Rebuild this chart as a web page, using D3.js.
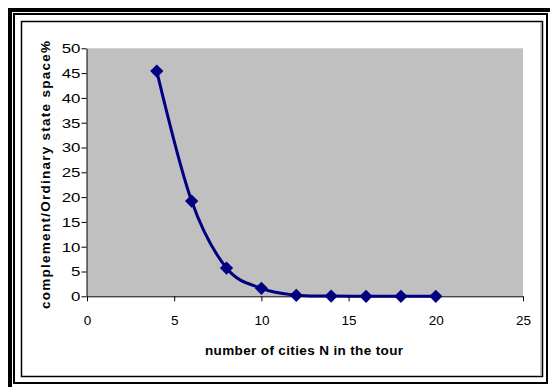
<!DOCTYPE html>
<html><head><meta charset="utf-8">
<script src="https://cdn.jsdelivr.net/npm/d3@7"></script>
<style>html,body{margin:0;padding:0;background:#fff;}svg{display:block;}</style>
</head><body>
<script>
const cities = [4, 6, 8, 10, 12, 14, 16, 18, 20];
const ratio = [45.4, 19.2, 5.7, 1.6, 0.2, 0.05, 0, 0, 0];
const xTicks = [0, 5, 10, 15, 20, 25];
const yTicks = [0, 5, 10, 15, 20, 25, 30, 35, 40, 45, 50];
const xTitle = "number of cities N in the tour";
const yTitle = "complement/Ordinary state space%";

const W = 550, H = 387;
const svg = d3.select("body").append("svg").attr("width", W).attr("height", H);
const font = "'Liberation Sans', Arial, sans-serif";

// page borders
svg.append("rect").attr("x", 8).attr("y", 8).attr("width", 4).attr("height", H - 8).attr("fill", "#000");
svg.append("rect").attr("x", 8).attr("y", 8).attr("width", W - 8).attr("height", 4).attr("fill", "#000");
svg.append("rect").attr("x", 14).attr("y", 14).attr("width", 533).attr("height", 369)
  .attr("fill", "none").attr("stroke", "#000").attr("stroke-width", 2);
// chart area border with shadow
svg.append("rect").attr("x", 21.5).attr("y", 21.5).attr("width", 521).attr("height", 355)
  .attr("fill", "none").attr("stroke", "#000").attr("stroke-width", 1.5);
svg.append("line").attr("x1", 541).attr("x2", 541).attr("y1", 23).attr("y2", 375).attr("stroke", "#888").attr("stroke-width", 1);

const L = 87, R = 523, T = 48.3, B = 296.3;
const x = d3.scaleLinear().domain([0, 25]).range([L, R]);
const y = d3.scaleLinear().domain([0, 50]).range([B, T]);

svg.append("rect").attr("x", L).attr("y", T).attr("width", R - L).attr("height", B - T).attr("fill", "#c0c0c0");

const xAxis = svg.append("g").attr("transform", `translate(0,${B})`)
  .call(d3.axisBottom(x).tickValues(xTicks).tickSize(5).tickPadding(14).tickSizeOuter(0));
const yAxis = svg.append("g").attr("transform", `translate(${L - 0.5},0)`)
  .call(d3.axisLeft(y).tickValues(yTicks).tickSize(5).tickPadding(0).tickSizeOuter(0));
[xAxis, yAxis].forEach(a => {
  a.select(".domain").attr("stroke", "#000").attr("stroke-width", 1);
  a.selectAll(".tick line").attr("stroke", "#000");
  a.selectAll("text").attr("font-family", font).attr("font-size", 13.5).attr("fill", "#000");
});
// y tick labels appear horizontally stretched in the reference
yAxis.selectAll(".tick text").attr("x", 0).attr("transform", "translate(-6,0) scale(1.25,1)");

const pts = cities.map((c, i) => [c, ratio[i]]);
const line = d3.line().x(d => x(d[0])).y(d => y(d[1])).curve(d3.curveCardinal.tension(0));
svg.append("path").attr("d", line(pts)).attr("fill", "none").attr("stroke", "#000080").attr("stroke-width", 3);

const sym = d3.symbol().type(d3.symbolSquare).size(88);
svg.selectAll(".pt").data(pts).enter().append("path")
  .attr("d", sym).attr("fill", "#000080")
  .attr("transform", d => `translate(${x(d[0])},${y(d[1])}) rotate(45)`);

svg.append("text").attr("x", 304).attr("y", 354.5).attr("text-anchor", "middle")
  .attr("font-family", font).attr("font-weight", "bold").attr("font-size", 13.5)
  .attr("textLength", 198).attr("lengthAdjust", "spacing").text(xTitle);
svg.append("text").attr("transform", `translate(49.5,175) rotate(-90)`).attr("text-anchor", "middle")
  .attr("font-family", font).attr("font-weight", "bold").attr("font-size", 13.5)
  .attr("textLength", 268).attr("lengthAdjust", "spacing").text(yTitle);
</script>
</body></html>
